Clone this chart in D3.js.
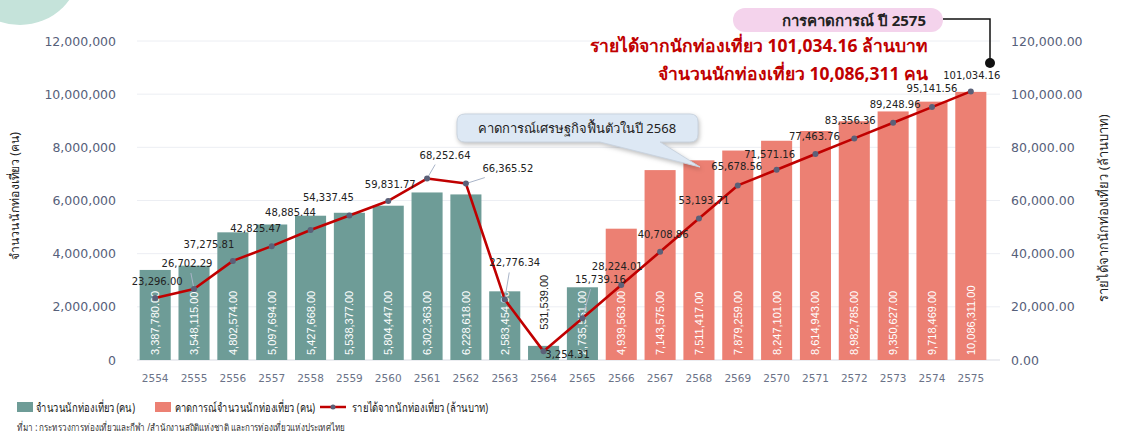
<!DOCTYPE html>
<html>
<head>
<meta charset="utf-8">
<script src="https://cdn.jsdelivr.net/npm/d3@7"></script>
<style>
  html, body { margin: 0; padding: 0; background: #fff; }
  svg { display: block; font-family: "DejaVu Sans", sans-serif; }
  .thai { font-family: "Noto Sans", "DejaVu Sans", sans-serif; }
</style>
</head>
<body>
<svg id="chart" width="1121" height="440"></svg>
<script>
// ข้อมูลกราฟ
const years = ["2554","2555","2556","2557","2558","2559","2560","2561","2562","2563","2564",
  "2565","2566","2567","2568","2569","2570","2571","2572","2573","2574","2575"];
const tourists = [3387780, 3548115, 4802574, 5097694, 5427668, 5538377, 5804447, 6302363,
  6228618, 2583454, 531539, 2735551, 4939563, 7143575, 7511417, 7879259, 8247101,
  8614943, 8982785, 9350627, 9718469, 10086311];
const forecastFrom = "2566";   // ตั้งแต่ปีนี้เป็นค่าคาดการณ์
const revenue = [23296.00, 26702.29, 37275.81, 42825.47, 48885.44, 54337.45, 59831.77,
  68252.64, 66365.52, 22776.34, 3254.31, 15739.16, 28224.01, 40708.86, 53193.71,
  65678.56, 71571.16, 77463.76, 83356.36, 89248.96, 95141.56, 101034.16];
const leftTicks = [0, 2000000, 4000000, 6000000, 8000000, 10000000, 12000000];
const rightTicks = [0, 20000, 40000, 60000, 80000, 100000, 120000];

// ตำแหน่งป้ายของเส้นรายได้ (dx, dy จากจุด) และเส้นชี้
const revLabelPos = {
  "2554": [2, -13, false], "2555": [-7, -22, true], "2556": [-24, -13, false],
  "2557": [-16, -14, false], "2558": [-20, -14, false], "2559": [-21, -15, false],
  "2560": [2, -13, false], "2561": [18, -20, true], "2562": [42, -12, true],
  "2563": [10, -33, true], "2564": [24, 7, false], "2565": [18, -35, true],
  "2566": [-4, -15, false], "2567": [3, -14, false], "2568": [5, -15, false],
  "2569": [-1, -15, false], "2570": [-7, -12, false], "2571": [-1, -14, false],
  "2572": [-4, -14, false], "2573": [2, -15, false], "2574": [0, -15, false],
  "2575": [1, -12, false]
};

const colActual = "#6e9c97", colForecast = "#ec8073", colLine = "#c00000";
const svg = d3.select("#chart");

// วงกลมมุมซ้ายบน
svg.append("circle").attr("cx", 20).attr("cy", -36).attr("r", 61).attr("fill", "#c5e3da");

const x = d3.scaleBand().domain(years).range([128, 998]).paddingInner(0.2).paddingOuter(0.3);
const yL = d3.scaleLinear().domain([0, 12000000]).range([360, 41]);
const yR = d3.scaleLinear().domain([0, 120000]).range([360, 41]);

// เส้นกริด
svg.append("g").selectAll("line").data(leftTicks).join("line")
  .attr("x1", 137).attr("x2", 1000)
  .attr("y1", d => yL(d)).attr("y2", d => yL(d))
  .attr("stroke", d => d === 0 ? "#d9dbe3" : "#eceef3").attr("stroke-width", 1);

// แกนซ้าย
const axisL = svg.append("g").attr("transform", "translate(116,0)")
  .call(d3.axisLeft(yL).tickValues(leftTicks).tickFormat(d3.format(",")).tickSize(0).tickPadding(0));
axisL.select(".domain").remove();
axisL.selectAll("text").attr("fill", "#56607a").attr("font-size", 12.5).attr("font-family", "DejaVu Sans");

// แกนขวา
const axisR = svg.append("g").attr("transform", "translate(1011,0)")
  .call(d3.axisRight(yR).tickValues(rightTicks).tickFormat(d3.format(",.2f")).tickSize(0).tickPadding(0));
axisR.select(".domain").remove();
axisR.selectAll("text").attr("fill", "#56607a").attr("font-size", 12.5).attr("font-family", "DejaVu Sans");

// แกน x
const axisX = svg.append("g").attr("transform", "translate(0,372)")
  .call(d3.axisBottom(x).tickSize(0).tickPadding(3));
axisX.select(".domain").remove();
axisX.selectAll("text").attr("fill", "#6b7388").attr("font-size", 10.5).attr("font-family", "DejaVu Sans");

// ชื่อแกน
svg.append("text").attr("class", "thai")
  .attr("transform", "translate(19,196) rotate(-90)")
  .attr("text-anchor", "middle").attr("font-size", 12.5).attr("fill", "#222")
  .attr("textLength", 128).attr("lengthAdjust", "spacingAndGlyphs")
  .text("จำนวนนักท่องเที่ยว  (คน)");
svg.append("text").attr("class", "thai")
  .attr("transform", "translate(1108,208) rotate(-90)")
  .attr("text-anchor", "middle").attr("font-size", 13).attr("fill", "#222")
  .text("รายได้จากนักท่องเที่ยว  (ล้านบาท)");

// แท่ง
const isForecast = y => +y >= +forecastFrom;
svg.append("g").selectAll("rect").data(years).join("rect")
  .attr("x", d => x(d)).attr("width", x.bandwidth())
  .attr("y", (d, i) => yL(tourists[i])).attr("height", (d, i) => yL(0) - yL(tourists[i]))
  .attr("fill", d => isForecast(d) ? colForecast : colActual);

// ป้ายค่าในแท่ง
svg.append("g").selectAll("text").data(years).join("text")
  .attr("transform", (d, i) => {
    const small = yL(0) - yL(tourists[i]) < 60;
    const yy = small ? yL(tourists[i]) - 16 : yL(0) - 5;
    return `translate(${x(d) + x.bandwidth() / 2 + 4},${yy}) rotate(-90)`;
  })
  .attr("font-family", "Liberation Sans Narrow, Liberation Sans, sans-serif")
  .attr("font-size", 11)
  .attr("fill", (d, i) => yL(0) - yL(tourists[i]) < 60 ? "#222" : "#fff")
  .text((d, i) => d3.format(",.2f")(tourists[i]));

// เส้นรายได้
const cx = d => x(d) + x.bandwidth() / 2;
const line = d3.line().x(d => cx(d)).y((d, i) => yR(revenue[i]));
svg.append("path").datum(years).attr("d", line)
  .attr("fill", "none").attr("stroke", colLine).attr("stroke-width", 2.6).attr("stroke-linejoin", "round");

// เส้นชี้ป้าย
svg.append("g").selectAll("line").data(years.filter(d => revLabelPos[d][2])).join("line")
  .attr("x1", d => cx(d)).attr("y1", d => yR(revenue[years.indexOf(d)]))
  .attr("x2", d => cx(d) + revLabelPos[d][0] * 0.45)
  .attr("y2", d => yR(revenue[years.indexOf(d)]) + revLabelPos[d][1] + 6)
  .attr("stroke", "#a9b4c8").attr("stroke-width", 1);

svg.append("g").selectAll("circle").data(years).join("circle")
  .attr("cx", d => cx(d)).attr("cy", (d, i) => yR(revenue[i])).attr("r", 3)
  .attr("fill", "#5b6078");

svg.append("g").selectAll("text").data(years).join("text")
  .attr("x", d => cx(d) + revLabelPos[d][0])
  .attr("y", (d, i) => yR(revenue[i]) + revLabelPos[d][1])
  .attr("text-anchor", "middle").attr("font-size", 10).attr("fill", "#222")
  .text((d, i) => d3.format(",.2f")(revenue[i]));

// กล่องคำอธิบาย ปี 2568
const callout = svg.append("g");
callout.append("path")
  .attr("d", "M465,114 H690 Q698,114 698,122 V134 Q698,142 690,142 H660 L700,167 L600,142 H465 Q457,142 457,134 V122 Q457,114 465,114 Z")
  .attr("fill", "#dde8f4").attr("stroke", "#c9d3df").attr("stroke-width", 1)
  .style("filter", "drop-shadow(1px 2px 2px rgba(0,0,0,0.25))");
callout.append("text").attr("class", "thai")
  .attr("x", 577).attr("y", 133).attr("text-anchor", "middle")
  .attr("font-size", 13).attr("fill", "#222")
  .text("คาดการณ์เศรษฐกิจฟื้นตัวในปี 2568");

// หัวเรื่องการคาดการณ์
svg.append("rect").attr("x", 733).attr("y", 8).attr("width", 210).attr("height", 24)
  .attr("rx", 12).attr("fill", "#f4d3ec");
svg.append("text").attr("class", "thai")
  .attr("x", 926).attr("y", 26).attr("text-anchor", "end")
  .attr("font-size", 15).attr("font-weight", "bold").attr("fill", "#222")
  .text("การคาดการณ์ ปี 2575");
svg.append("path").attr("d", "M943,19 H990 V62").attr("fill", "none")
  .attr("stroke", "#111").attr("stroke-width", 1.5);
svg.append("circle").attr("cx", 990).attr("cy", 63).attr("r", 5).attr("fill", "#111");

svg.append("text").attr("class", "thai")
  .attr("x", 928).attr("y", 52).attr("text-anchor", "end")
  .attr("font-size", 17.5).attr("font-weight", "bold").attr("fill", colLine)
  .text("รายได้จากนักท่องเที่ยว 101,034.16 ล้านบาท");
svg.append("text").attr("class", "thai")
  .attr("x", 928).attr("y", 80).attr("text-anchor", "end")
  .attr("font-size", 17.5).attr("font-weight", "bold").attr("fill", colLine)
  .text("จำนวนนักท่องเที่ยว 10,086,311 คน");

// คำอธิบายสัญลักษณ์
const legend = svg.append("g").attr("class", "thai").attr("font-size", 12.5).attr("fill", "#222");
legend.append("rect").attr("x", 17).attr("y", 402).attr("width", 16).attr("height", 10).attr("fill", colActual);
legend.append("text").attr("x", 36).attr("y", 412)
  .attr("textLength", 99).attr("lengthAdjust", "spacingAndGlyphs")
  .text("จำนวนนักท่องเที่ยว (คน)");
legend.append("rect").attr("x", 155).attr("y", 402).attr("width", 16).attr("height", 10).attr("fill", colForecast);
legend.append("text").attr("x", 175).attr("y", 412)
  .attr("textLength", 140).attr("lengthAdjust", "spacingAndGlyphs")
  .text("คาดการณ์จำนวนนักท่องเที่ยว (คน)");
legend.append("line").attr("x1", 320).attr("x2", 346).attr("y1", 407).attr("y2", 407)
  .attr("stroke", colLine).attr("stroke-width", 2.5);
legend.append("circle").attr("cx", 333).attr("cy", 407).attr("r", 2.5).attr("fill", "#5b6078");
legend.append("text").attr("x", 352).attr("y", 412)
  .attr("textLength", 136).attr("lengthAdjust", "spacingAndGlyphs")
  .text("รายได้จากนักท่องเที่ยว (ล้านบาท)");

svg.append("text").attr("class", "thai")
  .attr("x", 17).attr("y", 431).attr("font-size", 10).attr("fill", "#333")
  .attr("textLength", 328).attr("lengthAdjust", "spacingAndGlyphs")
  .text("ที่มา : กระทรวงการท่องเที่ยวและกีฬา /สำนักงานสถิติแห่งชาติ และการท่องเที่ยวแห่งประเทศไทย");
</script>
</body>
</html>
